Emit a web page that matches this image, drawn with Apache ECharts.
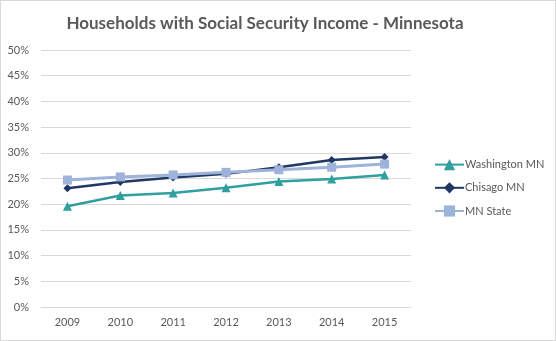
<!DOCTYPE html>
<html><head><meta charset="utf-8">
<script src="https://cdn.jsdelivr.net/npm/echarts@6/dist/echarts.min.js"></script>
<style>html,body{margin:0;padding:0;background:#fff}#c{width:556px;height:341px;box-sizing:border-box;border:1px solid #d9d9d9}</style>
</head><body><div id="c"></div>
<script>
const categories = ['2009','2010','2011','2012','2013','2014','2015'];
const washington = [19.6, 21.7, 22.2, 23.2, 24.4, 24.9, 25.7];
const chisago = [23.1, 24.3, 25.2, 25.9, 27.2, 28.6, 29.2];
const mnState = [24.7, 25.3, 25.7, 26.2, 26.7, 27.2, 27.8];
const yTicks = { min: 0, max: 50, interval: 5 };

const chart = echarts.init(document.getElementById('c'));
const font = 'Lato, "Open Sans", sans-serif';
chart.setOption({
  animation: false,
  title: { text: 'Households with Social Security Income - Minnesota', left: 259, textAlign: 'center', top: 9,
    textStyle: { fontFamily: font, fontSize: 17, fontWeight: 'bold', color: '#595959' } },
  grid: { left: 40, right: 144, top: 49, bottom: 33, containLabel: false },
  legend: { orient: 'vertical', left: 428, top: 153, itemWidth: 29, itemHeight: 14, itemGap: 12,
    textStyle: { fontFamily: font, fontSize: 11, color: '#595959', padding: [0,0,0,-4] },
    data: ['Washington MN', 'Chisago MN', 'MN State'] },
  xAxis: { type: 'category', data: categories, boundaryGap: true,
    axisLine: { lineStyle: { color: '#d9d9d9' } }, axisTick: { show: false },
    axisLabel: { fontFamily: font, fontSize: 11, color: '#595959', margin: 10 } },
  yAxis: { type: 'value', min: yTicks.min, max: yTicks.max, interval: yTicks.interval,
    axisLine: { show: false }, axisTick: { show: false },
    splitLine: { lineStyle: { color: '#d9d9d9' } },
    axisLabel: { fontFamily: font, fontSize: 11, color: '#595959', margin: 12, formatter: v => v + '%' } },
  series: [
    { name: 'Washington MN', type: 'line', data: washington, symbol: 'triangle', symbolSize: 9,
      lineStyle: { width: 2.5, color: '#2f9f9f' }, itemStyle: { color: '#2f9f9f' }, z: 3 },
    { name: 'Chisago MN', type: 'line', data: chisago, symbol: 'diamond', symbolSize: 8,
      lineStyle: { width: 2.5, color: '#1f3864' }, itemStyle: { color: '#1f3864' }, z: 2 },
    { name: 'MN State', type: 'line', data: mnState, symbol: 'rect', symbolSize: 9,
      lineStyle: { width: 3, color: '#9db3da' }, itemStyle: { color: '#9db3da' }, z: 4 }
  ]
});
</script></body></html>
